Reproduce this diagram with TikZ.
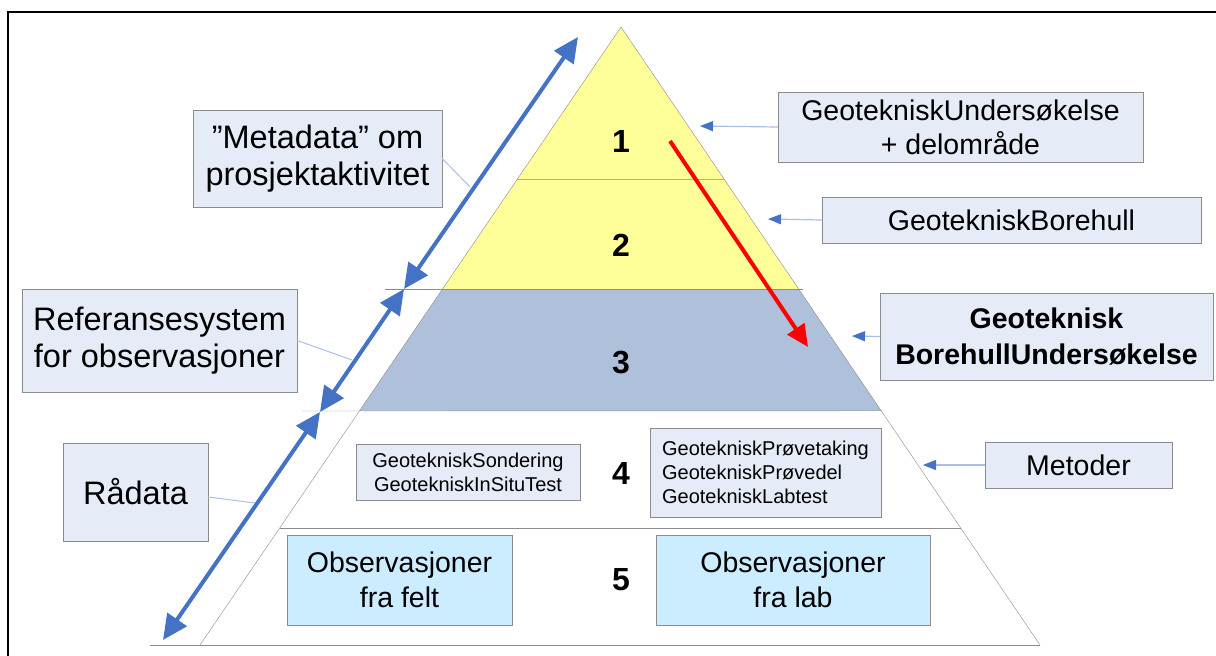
\documentclass[tikz,border=0pt]{standalone}
\usepackage{fontspec}
\setmainfont{Liberation Sans}
\usetikzlibrary{arrows.meta,calc}
\definecolor{tieryellow}{HTML}{FFFF99}
\definecolor{tierblue}{HTML}{AFC0DA}
\definecolor{calloutfill}{HTML}{E6ECF7}
\definecolor{obsfill}{HTML}{CCECFF}
\definecolor{arrowblue}{HTML}{4472C4}
\definecolor{leaderblue}{HTML}{A8C0E4}
\definecolor{edgegray}{HTML}{8C8C8C}
\definecolor{tierolive}{HTML}{B4B478}

\begin{document}
\begin{tikzpicture}[x=1pt,y=-1pt]
\tikzstyle{callout}=[draw=edgegray,fill=calloutfill,inner sep=0pt,align=center,font=\fontsize{28.5}{34}\selectfont];
\tikzstyle{bigcallout}=[callout,font=\fontsize{32.5}{37}\selectfont];
\tikzstyle{smallbox}=[callout,font=\fontsize{20}{24}\selectfont];
\tikzstyle{obsbox}=[callout,fill=obsfill,font=\fontsize{28.5}{35}\selectfont];
\tikzstyle{tiernum}=[font=\bfseries\fontsize{32}{32}\selectfont];
\tikzstyle{span}=[arrowblue,line width=4pt,{Triangle[length=25pt,width=23pt]}-{Triangle[length=25pt,width=23pt]}];
\tikzstyle{pointer}=[leaderblue,line width=1.2pt,-{Triangle[length=13pt,width=10pt,color=arrowblue]}];
\tikzstyle{leader}=[leaderblue,line width=1pt];
\useasboundingbox (0,0) rectangle (1216,656);
\draw[line width=2pt] (8,656) -- (8,12) -- (1216,12);

\coordinate (apex) at (621,27);
\coordinate (baseL) at (200,645);
\coordinate (baseR) at (1040,645);
\foreach \n/\t in {1/0.246,2/0.424,3/0.621,4/0.811}{
  \coordinate (l\n) at ($(apex)!\t!(baseL)$);
  \coordinate (r\n) at ($(apex)!\t!(baseR)$);
}
\fill[tieryellow] (apex) -- (r2) -- (l2) -- cycle;
\fill[tierblue] (l2) -- (r2) -- (r3) -- (l3) -- cycle;
\draw[edgegray] (apex) -- (baseL) (apex) -- (baseR);
\draw[tierolive] (l1) -- (r1);
\draw[edgegray] (385,289) -- (803,289);
\draw[edgegray] (302,411) -- (r3);
\draw[edgegray] (l4) -- (r4);
\draw[edgegray] (150,645) -- (baseR);

\node[tiernum] (n1) at (621,141) {1};
\node[tiernum] (n2) at (621,245) {2};
\node[tiernum] (n3) at (621,363) {3};
\node[tiernum] (n4) at (621,473) {4};
\node[tiernum] (n5) at (621,580) {5};

\node[smallbox,minimum width=224,minimum height=56] (sondering) at (468,472) {GeotekniskSondering\\GeotekniskInSituTest};
\node[smallbox,minimum width=231,minimum height=89,align=left] (proeve) at (765.5,472.5) {GeotekniskPrøvetaking\\GeotekniskPrøvedel\\GeotekniskLabtest};
\node[obsbox,minimum width=225,minimum height=90] (felt) at (399.5,580) {Observasjoner\\fra felt};
\node[obsbox,minimum width=274,minimum height=90] (lab) at (793,580) {Observasjoner\\fra lab};

\node[bigcallout,minimum width=249,minimum height=97] (meta) at (317.5,158.5) {”Metadata” om\\prosjektaktivitet};
\node[bigcallout,minimum width=275,minimum height=103] (ref) at (159.5,340.5) {Referansesystem\\for observasjoner};
\node[bigcallout,minimum width=145,minimum height=98] (raadata) at (135.5,492) {Rådata};
\node[callout,minimum width=365,minimum height=70] (undersok) at (960.5,127) {GeotekniskUndersøkelse\\+ delområde};
\node[callout,minimum width=379,minimum height=46] (borehull) at (1011.5,220) {GeotekniskBorehull};
\node[callout,minimum width=333,minimum height=87,font=\bfseries\fontsize{28.5}{36}\selectfont] (bhus) at (1046.5,336.5) {Geoteknisk\\BorehullUndersøkelse};
\node[callout,minimum width=187,minimum height=46] (metoder) at (1078.5,465) {Metoder};

\coordinate (dtop) at (578,37);
\coordinate (c1) at (404,289);
\coordinate (c2) at (320,412);
\coordinate (dbot) at (163,640);
\draw[span] (dtop) -- (c1);
\draw[span] (c1) -- (c2);
\draw[span] (c2) -- (dbot);

\coordinate (q1) at (470,187);
\coordinate (q2) at (352,360);
\coordinate (q3) at (255,503);
\draw[leader] (meta.east) -- (q1);
\draw[leader] (ref.east) -- (q2);
\draw[leader] ($(raadata.east)+(0,5)$) -- (q3);

\coordinate (p1) at (700,126);
\coordinate (p2) at (768,219);
\coordinate (p3) at (852,336);
\coordinate (p4) at (923,465);
\draw[pointer] (undersok.west) -- (p1);
\draw[pointer] (borehull.west) -- (p2);
\draw[pointer] (bhus.west) -- (p3);
\draw[pointer] (metoder.west) -- (p4);

\coordinate (rstart) at (670,141);
\coordinate (rend) at (808,347);
\draw[red,line width=4pt,-{Triangle[length=22pt,width=20pt]}] (rstart) -- (rend);
\end{tikzpicture}
\end{document}
